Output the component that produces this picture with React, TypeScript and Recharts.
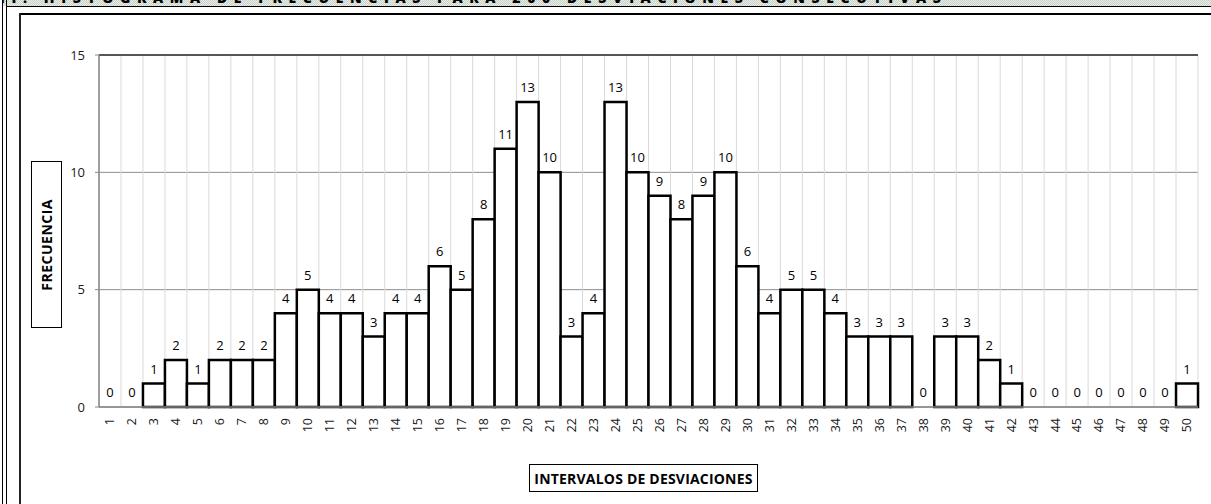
import React from 'react';
import { ComposedChart, Bar, Line, XAxis, YAxis, CartesianGrid, ReferenceLine, LabelList } from 'recharts';

const intervals = [
    '1', '2', '3', '4', '5', '6', '7', '8', '9', '10',
    '11', '12', '13', '14', '15', '16', '17', '18', '19', '20',
    '21', '22', '23', '24', '25', '26', '27', '28', '29', '30',
    '31', '32', '33', '34', '35', '36', '37', '38', '39', '40',
    '41', '42', '43', '44', '45', '46', '47', '48', '49', '50',
];

const frequencies = [
    0, 0, 1, 2, 1, 2, 2, 2, 4, 5,
    4, 4, 3, 4, 4, 6, 5, 8, 11, 13,
    10, 3, 4, 13, 10, 9, 8, 9, 10, 6,
    4, 5, 5, 4, 3, 3, 3, 0, 3, 3,
    2, 1, 0, 0, 0, 0, 0, 0, 0, 1,
];

const yTicks = [0, 5, 10, 15];

const title = 'II. HISTOGRAMA DE FRECUENCIAS PARA 200 DESVIACIONES CONSECUTIVAS';
const yLabel = 'FRECUENCIA';
const xLabel = 'INTERVALOS DE DESVIACIONES';

const data = intervals.map((name, i) => ({ name, value: frequencies[i] }));

const FONT = '"Open Sans", "Noto Sans", sans-serif';

const XTick = (props: any) => {
    const { x, y, payload } = props;
    return (
        <text
            x={x}
            y={y}
            transform={`rotate(-90, ${x}, ${y})`}
            textAnchor="end"
            dy="0.35em"
            fontSize={12.5}
            fill="#1a1a1a"
        >
            {payload.value}
        </text>
    );
};

// vertical grid lines sit on the category boundaries, not on the tick centres
const boundaryLines = ({ offset }: any) =>
    Array.from({ length: intervals.length + 1 }, (_, i) => offset.left + (i * offset.width) / intervals.length);

export default function App() {
    return (
        <div style={{ position: 'absolute', left: 0, top: 0, width: 1211, height: 504, fontFamily: FONT, background: '#fff', overflow: 'hidden' }}>
            {/* title band, cut off at the top */}
            <div
                style={{
                    position: 'absolute', left: 3, top: 0, width: 1208, height: 6, overflow: 'hidden',
                    background: 'repeating-conic-gradient(#c8d0c8 0% 25%, #e8ede8 0% 50%) 0 0 / 2px 2px',
                }}
            >
                <div style={{ position: 'absolute', left: -3, top: -9, whiteSpace: 'nowrap', fontWeight: 800, fontSize: 14, letterSpacing: 6.6, color: '#000', lineHeight: '14px' }}>
                    {title}
                </div>
            </div>
            {/* frame lines */}
            <div style={{ position: 'absolute', left: 2, top: 0, width: 1, height: 504, background: '#000' }} />
            <div style={{ position: 'absolute', left: 6, top: 0, width: 1, height: 504, background: '#000' }} />
            <div style={{ position: 'absolute', left: 6, top: 6, width: 1205, height: 1, background: '#000' }} />
            <div style={{ position: 'absolute', left: 19, top: 13, width: 1192, height: 2, background: '#000' }} />
            <div style={{ position: 'absolute', left: 19, top: 13, width: 2, height: 491, background: '#222' }} />

            {/* axis title boxes */}
            <div
                style={{
                    position: 'absolute', left: 31, top: 161, width: 29, height: 165, border: '1px solid #000',
                    display: 'flex', alignItems: 'center', justifyContent: 'center',
                }}
            >
                <span style={{ writingMode: 'vertical-rl', transform: 'rotate(180deg)', fontWeight: 700, fontSize: 14, letterSpacing: 0.5, color: '#000' }}>
                    {yLabel}
                </span>
            </div>
            <div
                style={{
                    position: 'absolute', left: 529, top: 464, width: 227, height: 26, border: '1px solid #000',
                    display: 'flex', alignItems: 'center', justifyContent: 'center',
                }}
            >
                <span style={{ fontWeight: 700, fontSize: 14, letterSpacing: 0.2, color: '#000', whiteSpace: 'nowrap' }}>{xLabel}</span>
            </div>

            <div style={{ position: 'absolute', left: 0, top: 0 }}>
                <ComposedChart
                    width={1211}
                    height={504}
                    data={data}
                    barCategoryGap={0}
                    barGap={0}
                    margin={{ top: 55, right: 13, bottom: 67, left: 59 }}
                >
                    <CartesianGrid yAxisId="left" vertical={false} stroke="#8c8c8c" />
                    <CartesianGrid yAxisId="left" horizontal={false} stroke="#d9d9d9" verticalCoordinatesGenerator={boundaryLines} />
                    <XAxis
                        dataKey="name"
                        interval={0}
                        tick={<XTick />}
                        tickLine={false}
                        tickSize={6}
                        tickMargin={5}
                        height={30}
                        axisLine={{ stroke: '#868686', strokeWidth: 1.5 }}
                    />
                    <YAxis
                        yAxisId="left"
                        domain={[0, 15]}
                        ticks={yTicks}
                        width={40}
                        tickSize={4}
                        tickMargin={10}
                        tick={{ fill: '#1a1a1a', fontSize: 13 }}
                        tickLine={{ stroke: '#868686' }}
                        axisLine={{ stroke: '#868686', strokeWidth: 1.5 }}
                    />
                    <YAxis
                        yAxisId="right"
                        orientation="right"
                        domain={[0, 15]}
                        width={0}
                        tick={false}
                        tickLine={false}
                        axisLine={{ stroke: '#404040', strokeWidth: 1.5 }}
                    />
                    <ReferenceLine yAxisId="left" y={15} stroke="#303030" strokeWidth={1.5} />
                    <Bar
                        yAxisId="left"
                        dataKey="value"
                        fill="#fff"
                        stroke="#000"
                        strokeWidth={2.5}
                        isAnimationActive={false}
                    />
                    {/* invisible line carries the value labels, so zero bars get one too */}
                    <Line
                        yAxisId="left"
                        dataKey="value"
                        stroke="none"
                        dot={false}
                        activeDot={false}
                        isAnimationActive={false}
                    >
                        <LabelList dataKey="value" position="top" offset={10} fill="#000" fontSize={13} />
                    </Line>
                </ComposedChart>
            </div>
        </div>
    );
}
